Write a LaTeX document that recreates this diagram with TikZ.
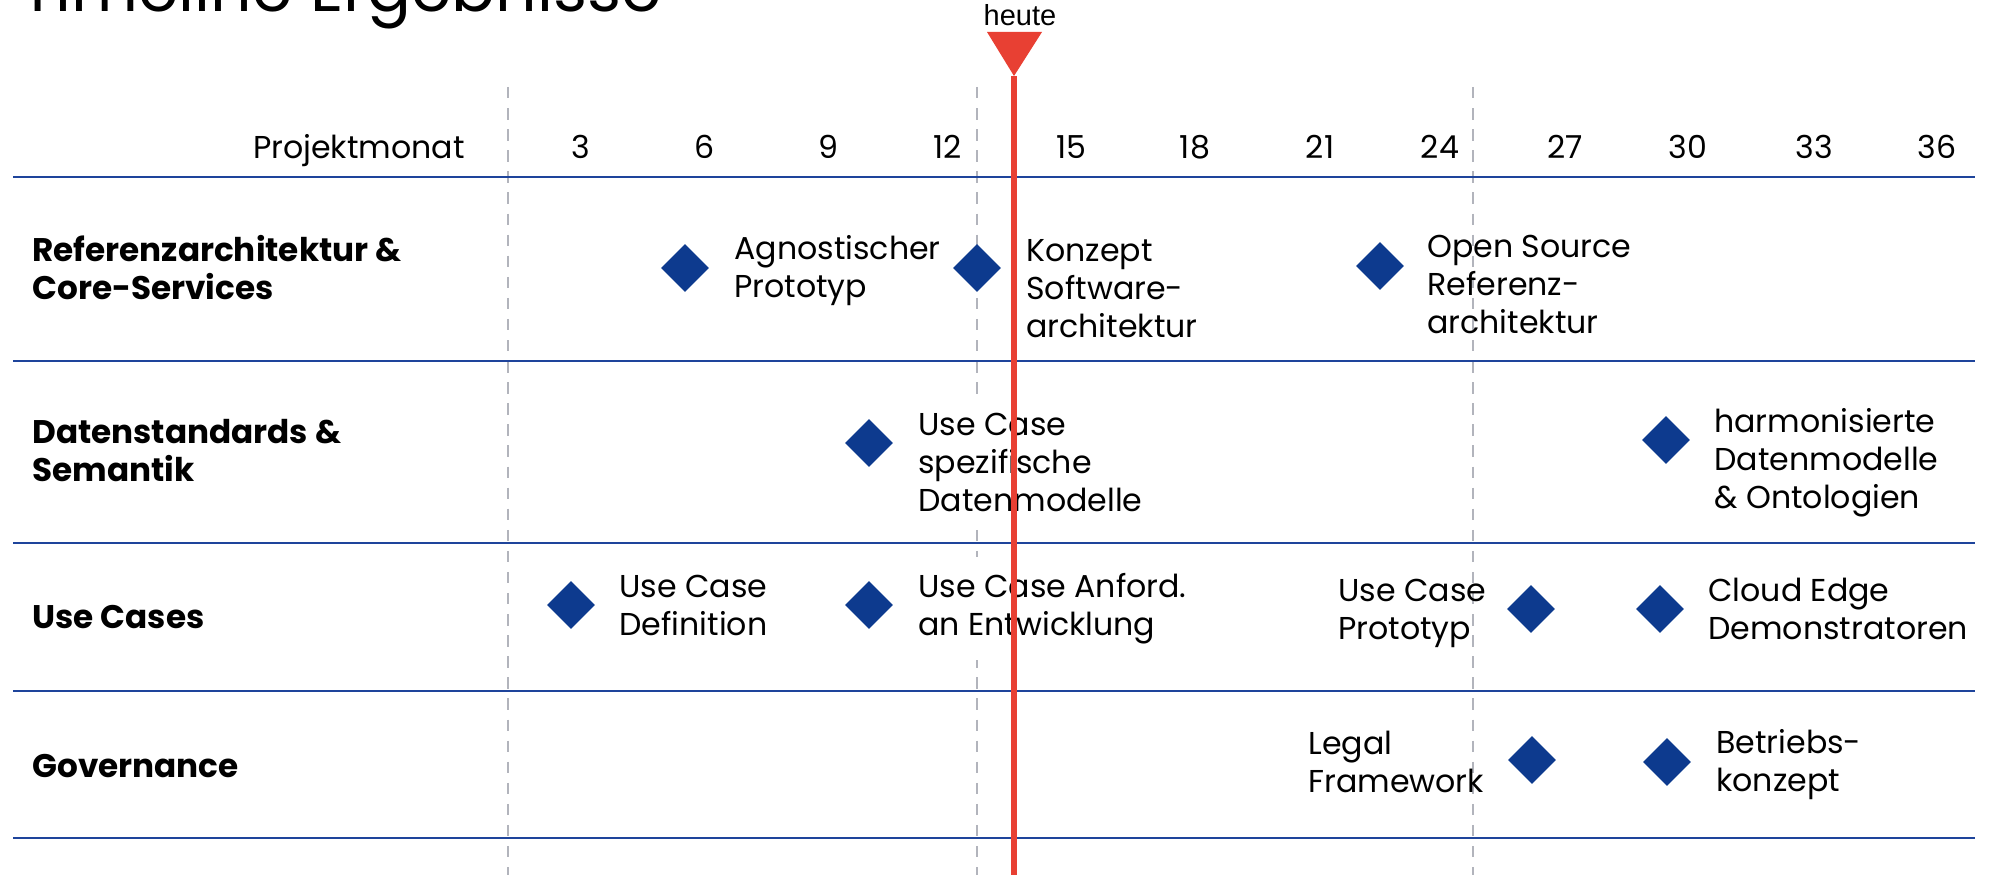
\documentclass[tikz,border=0pt]{standalone}
\usepackage{fontspec}
\setmainfont{Poppins}
\newfontfamily\heutefont{Liberation Sans}
\usepackage[x11names,dvipsnames,table]{xcolor}
\definecolor{msblue}{RGB}{13,58,142}
\definecolor{rowblue}{RGB}{30,68,155}
\definecolor{gridgray}{RGB}{178,180,188}
\definecolor{todayred}{RGB}{232,64,51}
\usepackage{tikz}
\usetikzlibrary{positioning}
\usetikzlibrary{shapes}

\begin{document}
\begin{tikzpicture}[x=0.02cm,y=-0.02cm]
\useasboundingbox (0,0) rectangle (1998,875);

\node[anchor=base west, inner sep=0, font=\fontsize{37}{44}\selectfont] (title) at (20,12) {Timeline Ergebnisse};

% dashed grid
\begin{scope}[every path/.style={draw=gridgray, line width=1.1pt, dash pattern=on 6.5pt off 5.5pt}]
    \coordinate (g1t) at (508,87);  \coordinate (g1b) at (508,875);
    \coordinate (g2t) at (977,87);  \coordinate (g2b) at (977,875);
    \coordinate (g3t) at (1473,87); \coordinate (g3b) at (1473,875);
    \path (g1t) -- (g1b);
    \path (g2t) -- (g2b);
    \path (g3t) -- (g3b);
\end{scope}

% row lines
\begin{scope}[every path/.style={draw=rowblue, line width=1pt}]
    \coordinate (r0l) at (13,177); \coordinate (r0r) at (1975,177);
    \coordinate (r1l) at (13,361); \coordinate (r1r) at (1975,361);
    \coordinate (r2l) at (13,543); \coordinate (r2r) at (1975,543);
    \coordinate (r3l) at (13,691); \coordinate (r3r) at (1975,691);
    \coordinate (r4l) at (13,838); \coordinate (r4r) at (1975,838);
    \path (r0l) -- (r0r);
    \path (r1l) -- (r1r);
    \path (r2l) -- (r2r);
    \path (r3l) -- (r3r);
    \path (r4l) -- (r4r);
\end{scope}

% month header
\begin{scope}[every node/.style={anchor=base, inner sep=0, font=\fontsize{18}{21.6}\selectfont}]
    \node[anchor=base east] (pm) at (465,158) {Projektmonat};
    \node (m3)  at (581,158)  {3};
    \node (m6)  at (705,158)  {6};
    \node (m9)  at (828,158)  {9};
    \node (m12) at (948,158)  {12};
    \node (m15) at (1071,158) {15};
    \node (m18) at (1195,158) {18};
    \node (m21) at (1320,158) {21};
    \node (m24) at (1440,158) {24};
    \node (m27) at (1565,158) {27};
    \node (m30) at (1688,158) {30};
    \node (m33) at (1814,158) {33};
    \node (m36) at (1937,158) {36};
\end{scope}

% row titles (base = last line)
\begin{scope}[every node/.style={anchor=base west, inner sep=0, align=left, font=\bfseries\fontsize{18.6}{21.6}\selectfont}]
    \node (ref)  at (32,299) {Referenzarchitektur \&\\Core-Services};
    \node (dat)  at (32,481) {Datenstandards \&\\Semantik};
    \node (uc)   at (32,628) {Use Cases};
    \node (gov)  at (32,777) {Governance};
\end{scope}

% milestones
\begin{scope}[every node/.style={diamond, fill=msblue, inner sep=0, minimum width=0.96cm, minimum height=0.96cm}]
    \node (agn)  at (685,268)  {};
    \node (kon)  at (977,268)  {};
    \node (oss)  at (1380,266) {};
    \node (ucd)  at (869,443)  {};
    \node (har)  at (1666,440) {};
    \node (def)  at (571,605)  {};
    \node (anf)  at (869,605)  {};
    \node (pro)  at (1531,609) {};
    \node (cld)  at (1660,609) {};
    \node (leg)  at (1532,760) {};
    \node (bet)  at (1667,762) {};
\end{scope}

% milestone texts (base = last line)
\begin{scope}[every node/.style={anchor=base west, inner sep=0, align=left, font=\fontsize{18}{21.6}\selectfont}]
    \node (agnt) at (734,297)  {Agnostischer\\Prototyp};
    \node (kont) at (1026,337) {Konzept\\Software-\\architektur};
    \node (osst) at (1427,333) {Open Source\\Referenz-\\architektur};
    \node[fill=white, inner ysep=0.32cm] (ucdt) at (918,511) {Use Case\\spezifische\\Datenmodelle};
    \node (hart) at (1714,508) {harmonisierte\\Datenmodelle\\\& Ontologien};
    \node (deft) at (619,635)  {Use Case\\Definition};
    \node[fill=white, inner ysep=0.32cm] (anft) at (918,635) {Use Case Anford.\\an Entwicklung};
    \node (prot) at (1338,639) {Use Case\\Prototyp};
    \node (cldt) at (1708,639) {Cloud Edge\\Demonstratoren};
    \node (legt) at (1308,792) {Legal\\Framework};
    \node (bett) at (1716,791) {Betriebs-\\konzept};
\end{scope}

% today marker
\coordinate (tip) at (1014,76);
\coordinate (bot) at (1014,875);
\fill[todayred] (987,32) -- (1042,32) -- (tip) -- cycle;
\draw[todayred, line width=3.8pt] (tip) -- (bot);
\node[anchor=base, inner sep=0, font=\heutefont\fontsize{16.5}{19}\selectfont] (heute) at (1020,26) {heute};
\end{tikzpicture}
\end{document}
